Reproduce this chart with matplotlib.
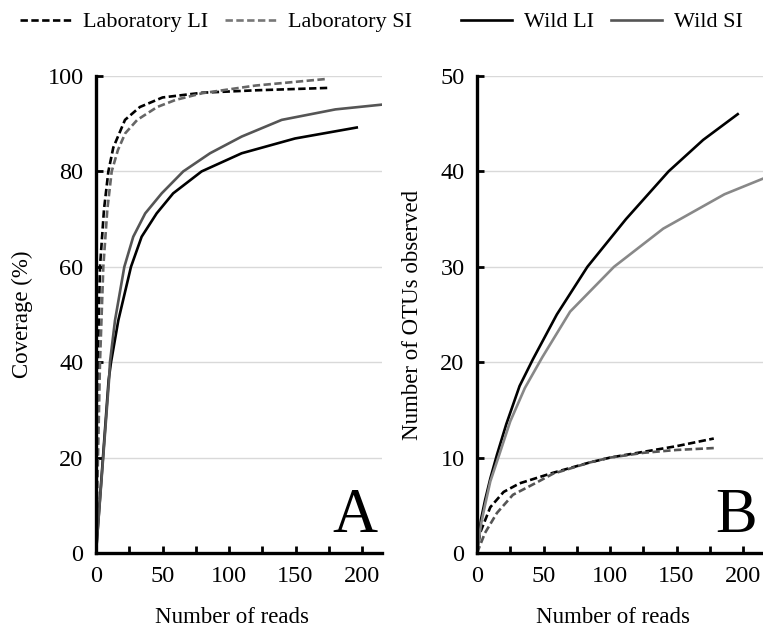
import matplotlib
matplotlib.use("Agg")
import matplotlib.pyplot as plt
from matplotlib.ticker import MultipleLocator

plt.rcParams["font.family"] = ["Liberation Serif", "DejaVu Serif"]
plt.rcParams["font.size"] = 16

# Panel A: coverage (%) vs number of reads
lab_li_reads_a = [0, 1.3, 3, 6, 9.3, 13, 21.8, 33, 50, 80, 120, 174]
lab_li_cov = [0, 40, 60, 72, 80, 85, 90.8, 93.5, 95.5, 96.5, 97, 97.5]
lab_si_reads_a = [0, 3, 5.5, 8.5, 11.8, 16.5, 22, 31, 46, 60, 80, 120, 174]
lab_si_cov = [0, 40, 60, 72, 80, 84.5, 88, 90.8, 93.5, 95, 96.4, 98, 99.4]
wild_li_reads_a = [0, 9.5, 11.3, 16.8, 26.3, 34.3, 45.6, 58, 79.4, 109.5, 149.6, 196]
wild_li_cov = [0, 36.3, 40, 48.8, 60, 66.3, 71.2, 75.4, 80, 83.8, 86.9, 89.2]
wild_si_reads_a = [0, 9.8, 10.5, 14.3, 21.3, 28, 37, 49.4, 65.6, 85.7, 109.5, 139.6, 180, 215]
wild_si_cov = [0, 36.3, 40, 48.8, 60, 66.3, 71.2, 75.4, 80, 83.8, 87.3, 90.8, 93, 94]

# Panel B: number of OTUs observed vs number of reads
lab_li_reads_b = [0, 2.3, 10, 20, 32, 57, 85, 100, 125, 150, 178]
lab_li_otus = [0, 2.1, 4.8, 6.4, 7.3, 8.4, 9.5, 10, 10.6, 11.2, 12]
lab_si_reads_b = [0, 6, 15, 27, 45, 57, 85, 100, 125, 150, 178]
lab_si_otus = [0, 2.1, 4.2, 6.1, 7.4, 8.3, 9.5, 10, 10.5, 10.8, 11]
wild_li_reads_b = [0, 3, 6, 10, 15, 22, 32, 42, 60, 83, 112, 144, 170, 196]
wild_li_otus = [0, 3.5, 5.5, 7.8, 10.3, 13.5, 17.5, 20.3, 25, 30, 35, 40, 43.3, 46]
wild_si_reads_b = [0, 3, 6, 10, 16, 25, 36, 49, 70, 103, 140, 186, 216]
wild_si_otus = [0, 3, 5, 7.5, 10, 13.8, 17.3, 20.5, 25.3, 30, 34, 37.6, 39.3]

LW = 1.9
DASH = (2.8, 1.3)

fig = plt.figure(figsize=(7.63, 6.31), dpi=100)
ax_a = fig.add_axes([96 / 763, 1 - 553 / 631, 286 / 763, 477 / 631])
ax_b = fig.add_axes([477 / 763, 1 - 553 / 631, 286 / 763, 477 / 631])


def style_axes(ax, ymax, ystep):
    ax.set_ylim(0, ymax)
    ax.set_xlim(0, 215)
    ax.yaxis.set_major_locator(MultipleLocator(ystep))
    ax.xaxis.set_major_locator(MultipleLocator(50))
    ax.xaxis.set_minor_locator(MultipleLocator(25))
    ax.grid(axis="y", color="#d9d9d9", linewidth=1.0)
    ax.set_axisbelow(True)
    for side in ("top", "right"):
        ax.spines[side].set_visible(False)
    for side in ("left", "bottom"):
        ax.spines[side].set_linewidth(2.4)
        ax.spines[side].set_color("black")
    ax.tick_params(which="both", direction="in", length=5, width=2, colors="black",
                   labelsize=17.5)
    ax.tick_params(axis="x", pad=9)
    ax.tick_params(axis="y", pad=9)
    ax.set_xlabel("Number of reads", fontsize=16.5)
    ax.xaxis.set_label_coords(0.475, -0.113)


# panel A
ax_a.plot(lab_li_reads_a, lab_li_cov, color="black", lw=LW, dashes=DASH)
ax_a.plot(lab_si_reads_a, lab_si_cov, color="#666666", lw=LW, dashes=DASH)
ax_a.plot(wild_li_reads_a, wild_li_cov, color="black", lw=LW)
ax_a.plot(wild_si_reads_a, wild_si_cov, color="#555555", lw=LW)
style_axes(ax_a, 100, 20)
ax_a.set_ylabel("Coverage (%)", fontsize=16.5)
ax_a.yaxis.set_label_coords(-0.259, 0.5)
ax_a.yaxis.label.set_va("center")
ax_a.text(0.985, 0.045, "A", transform=ax_a.transAxes, ha="right", va="baseline",
          fontsize=45)

# panel B
ax_b.plot(lab_li_reads_b, lab_li_otus, color="black", lw=LW, dashes=DASH)
ax_b.plot(lab_si_reads_b, lab_si_otus, color="#555555", lw=LW, dashes=DASH)
ax_b.plot(wild_li_reads_b, wild_li_otus, color="black", lw=LW)
ax_b.plot(wild_si_reads_b, wild_si_otus, color="#888888", lw=LW)
style_axes(ax_b, 50, 10)
ax_b.set_ylabel("Number of OTUs observed", fontsize=16.5)
ax_b.yaxis.set_label_coords(-0.224, 0.5)
ax_b.yaxis.label.set_va("center")
ax_b.text(0.98, 0.045, "B", transform=ax_b.transAxes, ha="right", va="baseline",
          fontsize=45)

# legends across the top
lab_handles = [
    plt.Line2D([], [], color="black", lw=LW, dashes=DASH),
    plt.Line2D([], [], color="#777777", lw=LW, dashes=DASH),
]
wild_handles = [
    plt.Line2D([], [], color="black", lw=LW),
    plt.Line2D([], [], color="#555555", lw=LW),
]
common = dict(ncol=2, frameon=False, borderpad=0, borderaxespad=0,
              handlelength=2.3, handletextpad=0.55, columnspacing=0.75, fontsize=16)
fig.legend(lab_handles, ["Laboratory LI", "Laboratory SI"], loc="center left",
           bbox_to_anchor=(20 / 763, 1 - 22 / 631), **common)
fig.legend(wild_handles, ["Wild LI", "Wild SI"], loc="center left",
           bbox_to_anchor=(461 / 763, 1 - 22 / 631), **common)

fig.savefig("out.png", dpi=100)
